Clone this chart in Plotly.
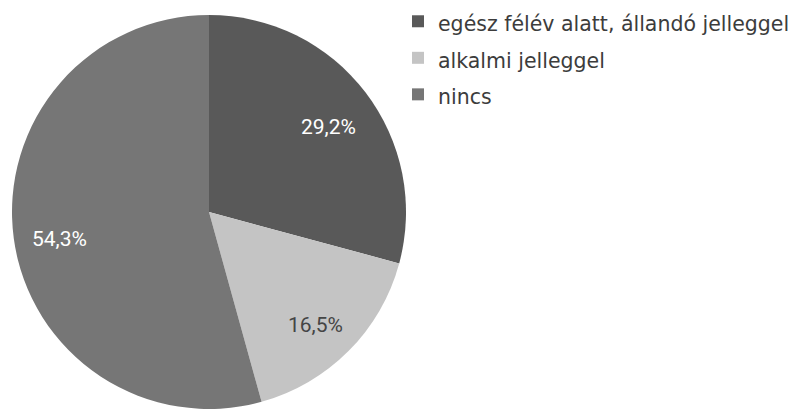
import math
import plotly.graph_objects as go

labels = ["egész félév alatt, állandó jelleggel", "alkalmi jelleggel", "nincs"]
values = [29.2, 16.5, 54.3]
text_labels = ["29,2%", "16,5%", "54,3%"]
colors = ["#595959", "#c4c4c4", "#767676"]
text_colors = ["#ffffff", "#454545", "#ffffff"]

LABEL_FONT = "Roboto, sans-serif"
LEGEND_FONT = "DejaVu Sans, sans-serif"
# page body adds an 8px offset, so the figure is 8px smaller each way
W, H = 791, 402
cx, cy, r = 201, 204, 197
label_r = 0.765

legend_labels = [f"<span style='font-size:20.5px'>{l}</span>" for l in labels]

fig = go.Figure(go.Pie(
    labels=legend_labels,
    values=values,
    textinfo="none",
    sort=False,
    direction="clockwise",
    rotation=0,
    marker=dict(colors=colors, line=dict(width=0)),
    domain=dict(x=[(cx - r) / W, (cx + r) / W], y=[(H - cy - r) / H, (H - cy + r) / H]),
    hoverinfo="skip",
))

# slice labels placed at mid-angle of each slice (computed from the data)
total = sum(values)
cum = 0.0
for v, t, c in zip(values, text_labels, text_colors):
    mid = (cum + v / 2) / total * 2 * math.pi
    cum += v
    px = cx + label_r * r * math.sin(mid)
    py = (H - cy) + label_r * r * math.cos(mid)
    fig.add_annotation(
        x=px / W, y=py / H, xref="paper", yref="paper",
        text=t, showarrow=False,
        font=dict(family=LABEL_FONT, size=21, color=c),
        xanchor="center", yanchor="middle", yshift=-7,
    )

fig.update_layout(
    width=W, height=H,
    margin=dict(l=0, r=0, t=0, b=0, autoexpand=False),
    paper_bgcolor="white",
    plot_bgcolor="white",
    font=dict(family=LEGEND_FONT, color="#3c3c3c"),
    legend=dict(
        x=390 / W, xanchor="left",
        y=1 + 10 / H, yanchor="top",
        font=dict(family=LEGEND_FONT, size=25.8, color="#3c3c3c"),
        bgcolor="rgba(0,0,0,0)",
    ),
)

fig.write_html("out.html")
